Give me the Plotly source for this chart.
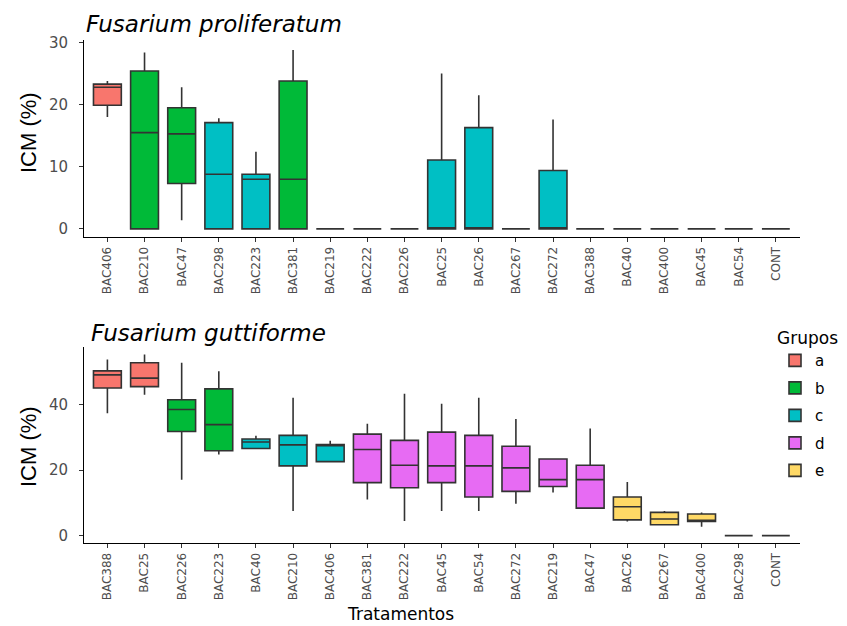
import plotly.graph_objects as go

# ---------------- Data ----------------
groups = ["a", "b", "c", "d", "e"]
group_colors = ["#F8766D", "#00BA38", "#00BFC4", "#E76BF3", "#FFD966"]

# Panel 1: Fusarium proliferatum
top_cats = ["BAC406", "BAC210", "BAC47", "BAC298", "BAC223", "BAC381", "BAC219", "BAC222",
            "BAC226", "BAC25", "BAC26", "BAC267", "BAC272", "BAC388", "BAC40", "BAC400",
            "BAC45", "BAC54", "CONT"]
top_groups = ["a", "b", "b", "c", "c", "b", "d", "d", "d", "c", "c", "d", "c", "d", "d", "d",
              "d", "d", "d"]
top_min = [18.0, 0, 1.4, 0, 0, 0, 0, 0, 0, 0, 0, 0, 0, 0, 0, 0, 0, 0, 0]
top_q1 = [19.9, 0, 7.3, 0, 0, 0, 0, 0, 0, 0, 0, 0, 0, 0, 0, 0, 0, 0, 0]
top_med = [22.8, 15.5, 15.3, 8.8, 8.0, 8.0, 0, 0, 0, 0, 0, 0, 0, 0, 0, 0, 0, 0, 0]
top_q3 = [23.3, 25.4, 19.5, 17.1, 8.8, 23.8, 0, 0, 0, 11.1, 16.3, 0, 9.4, 0, 0, 0, 0, 0, 0]
top_max = [23.8, 28.4, 22.8, 17.8, 12.4, 28.8, 0, 0, 0, 25.0, 21.5, 0, 17.6, 0, 0, 0, 0, 0, 0]

# Panel 2: Fusarium guttiforme
bot_cats = ["BAC388", "BAC25", "BAC226", "BAC223", "BAC40", "BAC210", "BAC406", "BAC381",
            "BAC222", "BAC45", "BAC54", "BAC272", "BAC219", "BAC47", "BAC26", "BAC267",
            "BAC400", "BAC298", "CONT"]
bot_groups = ["a", "a", "b", "b", "c", "c", "c", "d", "d", "d", "d", "d", "d", "d", "e", "e",
              "e", "e", "e"]
bot_min = [37.4, 43.0, 17.1, 24.8, 26.4, 7.5, 22.6, 11.0, 4.5, 7.5, 7.5, 9.7, 13.2, 8.2, 4.3,
           3.3, 2.7, 0, 0]
bot_q1 = [45.1, 45.5, 31.8, 25.9, 26.6, 21.3, 22.6, 16.2, 14.6, 16.2, 11.8, 13.5, 15.0, 8.4,
          4.8, 3.3, 4.3, 0, 0]
bot_med = [49.1, 48.1, 38.5, 33.9, 28.6, 27.7, 27.6, 26.3, 21.5, 21.3, 21.3, 20.7, 17.1, 17.1,
           8.8, 5.1, 4.7, 0, 0]
bot_q3 = [50.3, 52.8, 41.5, 44.8, 29.5, 30.6, 27.8, 31.0, 29.1, 31.6, 30.6, 27.3, 23.4, 21.5,
          11.8, 7.1, 6.6, 0, 0]
bot_max = [53.8, 55.3, 52.8, 50.2, 30.5, 42.1, 29.0, 34.2, 43.3, 40.3, 42.1, 35.6, 23.5, 32.7,
           16.4, 7.5, 7.1, 0, 0]

# ---------------- Figure ----------------
W, H = 847, 626
fig = go.Figure()

def add_panel(cats, grps, mn, q1, med, q3, mx, xa, ya, show):
    for g, col in zip(groups, group_colors):
        idx = [i for i, gg in enumerate(grps) if gg == g]
        if not idx:
            continue
        fig.add_trace(go.Box(
            x=[cats[i] for i in idx],
            lowerfence=[mn[i] for i in idx],
            q1=[q1[i] for i in idx],
            median=[med[i] for i in idx],
            q3=[q3[i] for i in idx],
            upperfence=[mx[i] for i in idx],
            name=g, legendgroup=g, showlegend=show,
            fillcolor=col, line=dict(color="#333333", width=1.6),
            whiskerwidth=0, width=0.75, boxpoints=False,
            xaxis=xa, yaxis=ya,
        ))

add_panel(bot_cats, bot_groups, bot_min, bot_q1, bot_med, bot_q3, bot_max, "x2", "y2", True)
add_panel(top_cats, top_groups, top_min, top_q1, top_med, top_q3, top_max, "x", "y", False)

xd = [84 / W, 800 / W]
tick_font_x = dict(family="DejaVu Sans, sans-serif", size=12, color="#4d4d4d")
tick_font_y = dict(family="DejaVu Sans, sans-serif", size=15, color="#4d4d4d")
common_x = dict(type="category", showline=True, linecolor="black", linewidth=1,
                ticks="outside", ticklen=4, tickcolor="#333333", tickangle=-90,
                tickfont=tick_font_x, showgrid=False, zeroline=False,
                range=[-0.63, 18.65], automargin=False, fixedrange=True)
common_y = dict(showline=True, linecolor="black", linewidth=1, ticks="outside", ticklen=4,
                tickcolor="#333333", tickfont=tick_font_y, showgrid=False, zeroline=False,
                automargin=False, ticklabelstandoff=8)

fig.update_layout(
    width=W, height=H,
    margin=dict(l=0, r=0, t=0, b=0),
    paper_bgcolor="white", plot_bgcolor="white",
    boxmode="overlay",
    xaxis=dict(domain=xd, anchor="y", categoryorder="array", categoryarray=top_cats,
               **common_x),
    yaxis=dict(domain=[1 - 237 / H, 1 - 40 / H], anchor="x", range=[-1.3, 30.4],
               tickvals=[0, 10, 20, 30], **common_y),
    xaxis2=dict(domain=xd, anchor="y2", categoryorder="array", categoryarray=bot_cats,
                **common_x),
    yaxis2=dict(domain=[1 - 543 / H, 1 - 347 / H], anchor="x2", range=[-2.25, 57.6],
                tickvals=[0, 20, 40], **common_y),
    legend=dict(x=775 / W, y=1 - 322 / H, xanchor="left", yanchor="top",
                title=dict(text="Grupos", font=dict(family="DejaVu Sans, sans-serif",
                                                    size=17, color="black")),
                font=dict(family="DejaVu Sans, sans-serif", size=15, color="black"),
                tracegroupgap=5, bgcolor="rgba(0,0,0,0)"),
    showlegend=True,
)

ann_common = dict(xref="paper", yref="paper", showarrow=False)
fig.add_annotation(text="<i>Fusarium proliferatum</i>", x=84 / W, y=1 - 24 / H,
                   xanchor="left", yanchor="middle",
                   font=dict(family="DejaVu Sans, sans-serif", size=23, color="black"),
                   **ann_common)
fig.add_annotation(text="<i>Fusarium guttiforme</i>", x=89 / W, y=1 - 333 / H,
                   xanchor="left", yanchor="middle",
                   font=dict(family="DejaVu Sans, sans-serif", size=23, color="black"),
                   **ann_common)
for yc in [133, 447]:
    fig.add_annotation(text="ICM (%)", x=28 / W, y=1 - yc / H, textangle=-90,
                       xanchor="center", yanchor="middle",
                       font=dict(family="Liberation Sans, Arial, sans-serif", size=22,
                                 color="black"), **ann_common)
fig.add_annotation(text="Tratamentos", x=400 / W, y=1 - 614 / H, xanchor="center",
                   yanchor="middle",
                   font=dict(family="DejaVu Sans, sans-serif", size=17, color="black"),
                   **ann_common)

fig.write_html("out.html")
